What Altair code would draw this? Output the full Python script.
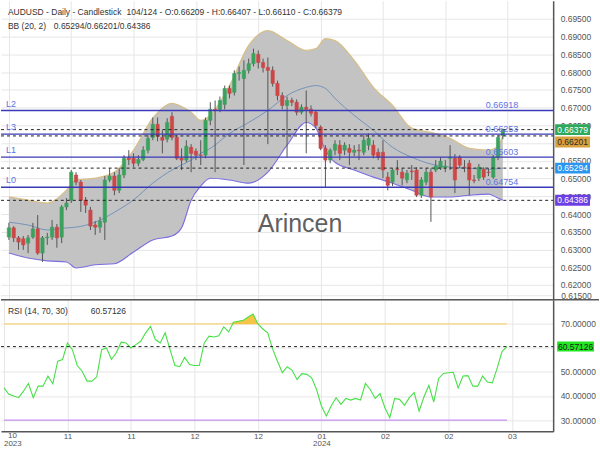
import altair as alt
import pandas as pd

# ---------------- data ----------------
opens = [0.6335, 0.6361, 0.6333, 0.6330, 0.6318, 0.6335, 0.6358, 0.6290, 0.6333, 0.6335,
         0.6363, 0.6335, 0.6420, 0.6439, 0.6510, 0.6490, 0.6439, 0.6411, 0.6369, 0.6363,
         0.6377, 0.6496, 0.6507, 0.6467, 0.6510, 0.6557, 0.6557, 0.6543, 0.6554, 0.6580,
         0.6616, 0.6653, 0.6616, 0.6611, 0.6675, 0.6616, 0.6557, 0.6552, 0.6588, 0.6577,
         0.6566, 0.6566, 0.6664, 0.6695, 0.6695, 0.6709, 0.6754, 0.6743, 0.6796, 0.6782,
         0.6805, 0.6824, 0.6850, 0.6827, 0.6813, 0.6805, 0.6768, 0.6734, 0.6706, 0.6720,
         0.6715, 0.6687, 0.6701, 0.6695, 0.6687, 0.6645, 0.6585, 0.6552, 0.6580, 0.6594,
         0.6580, 0.6585, 0.6574, 0.6580, 0.6574, 0.6594, 0.6594, 0.6574, 0.6574, 0.6504,
         0.6490, 0.6526, 0.6518, 0.6496, 0.6521, 0.6524, 0.6453, 0.6490, 0.6518, 0.6524,
         0.6529, 0.6532, 0.6557, 0.6557, 0.6560, 0.6532, 0.6543, 0.6496, 0.6501, 0.6526,
         0.6518, 0.6504, 0.6560, 0.66209]
closes = [0.6361, 0.6333, 0.6321, 0.6313, 0.6333, 0.6358, 0.6290, 0.6333, 0.6335, 0.6363,
          0.6333, 0.6420, 0.6431, 0.6518, 0.6490, 0.6439, 0.6425, 0.6366, 0.6363, 0.6380,
          0.6496, 0.6507, 0.6467, 0.6510, 0.6557, 0.6554, 0.6543, 0.6554, 0.6580, 0.6613,
          0.6653, 0.6619, 0.6608, 0.6658, 0.6616, 0.6557, 0.6552, 0.6591, 0.6571, 0.6566,
          0.6565, 0.6664, 0.6695, 0.6693, 0.6720, 0.6754, 0.6740, 0.6796, 0.6799, 0.6805,
          0.6824, 0.6852, 0.6827, 0.6813, 0.6805, 0.6768, 0.6734, 0.6706, 0.6720, 0.6715,
          0.6687, 0.6701, 0.6695, 0.6684, 0.6650, 0.6585, 0.6552, 0.6580, 0.6597, 0.6571,
          0.6594, 0.6574, 0.6580, 0.6578, 0.6608, 0.6613, 0.6566, 0.6560, 0.6524, 0.6481,
          0.6524, 0.6525, 0.6501, 0.6515, 0.6519, 0.6453, 0.6496, 0.6518, 0.6448, 0.6535,
          0.6549, 0.6535, 0.6560, 0.6496, 0.6538, 0.6531, 0.6496, 0.6494, 0.6532, 0.6504,
          0.6517, 0.6560, 0.6616, 0.66379]
highs = [0.6375, 0.6366, 0.6338, 0.6338, 0.6341, 0.6375, 0.6397, 0.6338, 0.6347, 0.6383,
         0.6372, 0.6425, 0.6445, 0.6524, 0.6518, 0.6496, 0.6448, 0.6420, 0.6380, 0.6392,
         0.6507, 0.6529, 0.6518, 0.6529, 0.6566, 0.6580, 0.6571, 0.6566, 0.6591, 0.6622,
         0.6672, 0.6672, 0.6636, 0.6670, 0.6687, 0.6622, 0.6585, 0.6608, 0.6597, 0.6585,
         0.6608, 0.6672, 0.6715, 0.6720, 0.6731, 0.6762, 0.6762, 0.6805, 0.6816, 0.6833,
         0.6838, 0.6866, 0.6861, 0.6838, 0.6841, 0.6816, 0.6776, 0.6743, 0.6731, 0.6728,
         0.6723, 0.6709, 0.6748, 0.6706, 0.6692, 0.6650, 0.6594, 0.6585, 0.6608, 0.6608,
         0.6602, 0.6597, 0.6594, 0.6597, 0.6622, 0.6627, 0.6608, 0.6585, 0.6608, 0.6518,
         0.6529, 0.6552, 0.6529, 0.6524, 0.6538, 0.6532, 0.6504, 0.6529, 0.6529, 0.6552,
         0.6560, 0.6552, 0.6594, 0.6569, 0.6566, 0.6552, 0.6552, 0.6510, 0.6541, 0.6532,
         0.6529, 0.6566, 0.6622, 0.66407]
lows = [0.6327, 0.6321, 0.6299, 0.6299, 0.6290, 0.6330, 0.6285, 0.6265, 0.6313, 0.6327,
        0.6305, 0.6318, 0.6411, 0.6431, 0.6481, 0.6406, 0.6403, 0.6355, 0.6341, 0.6347,
        0.6327, 0.6490, 0.6453, 0.6459, 0.6501, 0.6538, 0.6532, 0.6535, 0.6549, 0.6571,
        0.6608, 0.6605, 0.6571, 0.6602, 0.6608, 0.6552, 0.6524, 0.6546, 0.6518, 0.6552,
        0.6538, 0.6557, 0.6650, 0.6518, 0.6687, 0.6695, 0.6726, 0.6734, 0.6776, 0.6538,
        0.6796, 0.6816, 0.6810, 0.6799, 0.6597, 0.6759, 0.6720, 0.6695, 0.6560, 0.6704,
        0.6678, 0.6681, 0.6571, 0.6675, 0.6642, 0.6580, 0.6476, 0.6543, 0.6566, 0.6552,
        0.6566, 0.6538, 0.6563, 0.6552, 0.6566, 0.6580, 0.6557, 0.6552, 0.6501, 0.6467,
        0.6479, 0.6510, 0.6481, 0.6487, 0.6496, 0.6448, 0.6445, 0.6481, 0.6378, 0.6518,
        0.6524, 0.6518, 0.6524, 0.6459, 0.6529, 0.6518, 0.6453, 0.6487, 0.6493, 0.6496,
        0.6507, 0.6499, 0.6552, 0.66110]

rsi = [43.4, 40.7, 40.0, 39.3, 42.0, 45.2, 39.3, 44.1, 44.1, 48.3,
       45.1, 54.5, 55.2, 62.1, 59.3, 52.7, 50.3, 46.2, 46.2, 48.0,
       59.3, 60.0, 55.2, 58.0, 62.4, 62.1, 60.0, 61.4, 62.8, 66.3,
       69.0, 63.5, 62.1, 66.3, 59.3, 52.7, 52.2, 56.1, 53.1, 52.7,
       52.7, 62.1, 64.9, 64.6, 65.1, 68.8, 66.7, 70.7, 71.1, 71.5,
       72.9, 74.1, 70.0, 67.9, 66.3, 59.6, 54.5, 49.7, 52.2, 50.7,
       46.9, 49.3, 49.0, 47.6, 42.7, 35.8, 31.7, 35.8, 39.3, 36.5,
       39.0, 38.3, 39.0, 38.3, 45.2, 42.7, 39.0, 41.0, 35.1, 31.0,
       39.0, 38.6, 36.1, 39.3, 41.4, 33.7, 39.7, 44.4, 37.5, 47.3,
       49.4, 49.7, 49.9, 43.4, 48.3, 48.5, 44.1, 44.1, 48.3, 45.8,
       45.5, 51.7, 58.6, 60.57126]

bb_idx = [0, 4, 8, 12, 14, 18, 22, 26, 30, 34, 36, 38, 40, 42, 46, 50,
          54, 58, 62, 64, 66, 68, 72, 76, 80, 84, 88, 92, 96, 100, 102, 103]
bb_upper = [0.6448, 0.6439, 0.6431, 0.6467, 0.6496, 0.6501, 0.6518, 0.6580, 0.6670, 0.6712,
            0.6703, 0.6687, 0.6664, 0.6678, 0.6762, 0.6875, 0.6917, 0.6889, 0.6861, 0.6866,
            0.6894, 0.6889, 0.6833, 0.6757, 0.6706, 0.6642, 0.6630, 0.6613, 0.6585, 0.6580,
            0.6591, 0.66201]
bb_mid = [0.6377, 0.6369, 0.6355, 0.6361, 0.6363, 0.6377, 0.6405, 0.6440, 0.6487, 0.6524,
          0.6538, 0.6552, 0.6571, 0.6585, 0.6627, 0.6658, 0.6692, 0.6734, 0.6757, 0.6762,
          0.6754, 0.6726, 0.6678, 0.6636, 0.6588, 0.6560, 0.6541, 0.6532, 0.6529, 0.6526,
          0.6528, 0.65294]
bb_lower = [0.6290, 0.6276, 0.6268, 0.6265, 0.6248, 0.6257, 0.6260, 0.6293, 0.6327, 0.6338,
            0.6361, 0.6439, 0.6479, 0.6501, 0.6496, 0.6487, 0.6518, 0.6594, 0.6658, 0.6642,
            0.6580, 0.6546, 0.6524, 0.6504, 0.6487, 0.6467, 0.6448, 0.6448, 0.6453, 0.6456,
            0.6445, 0.64386]

level_names = ["L2", "L3", "L1", "L0"]
level_values = [0.66918, 0.66253, 0.65603, 0.64754]

marker_names = ["close", "bb_upper", "bb_mid", "bb_lower"]
marker_values = [0.66379, 0.66201, 0.65294, 0.64386]

month_ticks = [0, 13, 26, 39, 52, 65, 78, 91, 104]
month_labels = ["10", "11", "11", "12", "12", "01", "02", "02", "03"]
year_labels = ["2023", "2024"]
price_ticks = [0.620, 0.625, 0.630, 0.635, 0.640, 0.645, 0.650, 0.655,
               0.660, 0.665, 0.670, 0.675, 0.680, 0.685, 0.690, 0.695]
hidden_price_labels = [0.660]          # fully covered by the value boxes
rsi_ticks = [30, 40, 50, 60, 70, 80]
hidden_rsi_labels = [60, 80]           # covered by the value box / pane border
rsi_levels = [70, 30]

# ---------------- styling ----------------
FONT = "Liberation Sans"
GREEN = "#3ba15e"
RED = "#cc4747"
GRID = "#e6e6e6"
AX = "#555555"
LVL = "#3a3ab8"
LVL_TXT = "#5d73e3"
BOX_FILL = ["#2ea85a", "#d9a03e", "#2b96ef", "#6b3ee6"]
BOX_TEXT = ["#ffffff", "#2a2a2a", "#ffffff", "#ffffff"]
BOX_SHIFT = [0, 6, 0, 0]
RSI_LEVEL_COLORS = ["#f5d67c", "#c68ff2"]
W, PH, RH = 554, 300, 132

n = len(closes)
idx = list(range(n))
candles = pd.DataFrame({"i": idx, "open": opens, "high": highs, "low": lows, "close": closes})
bb = pd.DataFrame({"i": bb_idx, "up": bb_upper, "mid": bb_mid, "lo": bb_lower})
lv = pd.DataFrame({"name": level_names, "value": level_values})

xs = alt.Scale(domain=[-0.61, 112.45], nice=False, zero=False)
ps = alt.Scale(domain=[0.61584, 0.70011], nice=False, zero=False)
rs = alt.Scale(domain=[25.3, 80.08], nice=False, zero=False)

lab_js = "[" + ",".join(f"'{m}'" for m in month_labels) + "]"
tick_js = "[" + ",".join(str(t) for t in month_ticks) + "]"
xexpr = f"datum.value == {month_ticks[0]} ? '' : {lab_js}[indexof({tick_js}, datum.value)]"


def hide_expr(hidden, fmt):
    cond = " || ".join(f"abs(datum.value - {h}) < 1e-6" for h in hidden)
    return f"({cond}) ? '' : format(datum.value, '{fmt}')"


price_x_axis = alt.Axis(values=month_ticks, grid=True, gridColor=GRID, labels=False,
                        ticks=False, tickSize=0, domain=False, title=None)
price_y_axis = alt.Axis(orient="right", values=price_ticks,
                        labelExpr=hide_expr(hidden_price_labels, ".5f"), grid=True,
                        gridColor=GRID, ticks=False, tickSize=0, domainColor=AX,
                        domainWidth=1.5, labelColor=AX, labelFontSize=8.5, labelFont=FONT,
                        labelPadding=7, title=None)
rsi_x_axis = alt.Axis(values=month_ticks, labelExpr=xexpr, grid=True, gridColor=GRID,
                      ticks=False, tickSize=0, domainColor=AX, domainWidth=1.5,
                      labelColor=AX, labelFontSize=8, labelFont=FONT, labelPadding=1,
                      labelOverlap=False, labelAngle=0, title=None)
rsi_y_axis = alt.Axis(orient="right", values=rsi_ticks,
                      labelExpr=hide_expr(hidden_rsi_labels, ".5f"),
                      grid=True, gridColor=GRID, ticks=False, tickSize=0, domainColor=AX,
                      domainWidth=1.5, labelColor=AX, labelFontSize=8.5, labelFont=FONT,
                      labelPadding=7, title=None)


def PX(field="i"):
    return alt.X(f"{field}:Q", scale=xs, axis=price_x_axis)


def RX(field="i"):
    return alt.X(f"{field}:Q", scale=xs, axis=rsi_x_axis)


def PY(field):
    return alt.Y(f"{field}:Q", scale=ps, axis=price_y_axis)


def RY(field):
    return alt.Y(f"{field}:Q", scale=rs, axis=rsi_y_axis)


def txt(s, x, y, size=8.5, color="#333333", align="left", baseline="middle"):
    return alt.Chart(pd.DataFrame({"t": [s]})).mark_text(
        align=align, baseline=baseline, fontSize=size, color=color, font=FONT
    ).encode(text="t:N", x=alt.value(x), y=alt.value(y))


# ---------------- price pane ----------------
price_grid = alt.Chart(candles).mark_point(opacity=0).encode(x=PX(), y=PY("close"))
bottom_grid = alt.Chart(pd.DataFrame({"a": [0]})).mark_rule(color=GRID).encode(
    x=alt.value(0), x2=alt.value(W), y=alt.value(296))

bb_area = alt.Chart(bb).mark_area(color="#c3c3c3", interpolate="monotone").encode(
    x=PX(), y=PY("up"), y2="lo:Q")
bb_up = alt.Chart(bb).mark_line(color="#d8bf8a", strokeWidth=1.3, interpolate="monotone").encode(
    x=PX(), y=PY("up"))
bb_lo = alt.Chart(bb).mark_line(color="#7a6ee0", strokeWidth=1.1, interpolate="monotone").encode(
    x=PX(), y=PY("lo"))
bb_md = alt.Chart(bb).mark_line(color="#6a8db8", strokeWidth=0.9, interpolate="monotone").encode(
    x=PX(), y=PY("mid"))

wicks = alt.Chart(candles).mark_rule(color="#555555", strokeWidth=1).encode(
    x=PX(), y=PY("low"), y2="high:Q")
col = alt.condition("datum.close >= datum.open", alt.value(GREEN), alt.value(RED))
bodies = alt.Chart(candles).mark_bar(size=3.3, strokeWidth=0.6).encode(
    x=PX(), y=PY("open"), y2="close:Q", color=col, stroke=col)

lv_rules = alt.Chart(lv).mark_rule(color=LVL, strokeWidth=1.3).encode(
    y=PY("value"), x=alt.value(0), x2=alt.value(W))
lv_left = alt.Chart(lv).mark_text(align="left", baseline="middle", dy=-7, fontSize=9,
                                  color=LVL_TXT, font=FONT).encode(
    y=PY("value"), x=alt.value(5), text="name:N")
lv_right = alt.Chart(lv).mark_text(align="right", baseline="middle", dy=-5, fontSize=9,
                                   color=LVL_TXT, font=FONT).encode(
    y=PY("value"), x=alt.value(519), text=alt.Text("value:Q", format=".5f"))

marker_layers = []
for k, (name, val) in enumerate(zip(marker_names, marker_values)):
    d = pd.DataFrame({"name": [name], "value": [val]})
    marker_layers.append(
        alt.Chart(d).mark_rule(color="#222222", strokeWidth=1, strokeDash=[3, 3]).encode(
            y=PY("value"), x=alt.value(0), x2=alt.value(W)))
box_layers = []
for k, (name, val) in enumerate(zip(marker_names, marker_values)):
    d = pd.DataFrame({"name": [name], "value": [val]})
    s = BOX_SHIFT[k]
    box_layers.append(
        alt.Chart(d).mark_rect(color=BOX_FILL[k], yOffset=s - 5.5, y2Offset=s + 5.5).encode(
            y=PY("value"), y2="value:Q", x=alt.value(556), x2=alt.value(591)))
    box_layers.append(
        alt.Chart(d).mark_text(align="center", baseline="middle", fontSize=8.5, font=FONT,
                               dy=s, color=BOX_TEXT[k]).encode(
            y=PY("value"), x=alt.value(573.5), text=alt.Text("value:Q", format=".5f")))

title1 = txt("AUDUSD - Daily - Candlestick", 7, 11)
title2 = txt(f"{n}/124 - O:{opens[-1]:.5f} - H:{highs[-1]:.5f} - L:{lows[-1]:.5f} - C:{closes[-1]:.5f}", 126, 11)
bb1 = txt("BB (20, 2)", 7, 25.6)
bb2 = txt(f"{bb_mid[-1]:.5f}/{bb_upper[-1]:.5f}/{bb_lower[-1]:.5f}", 53, 25.6)
watermark = txt("Arincen", 300, 232, size=25, color="#606060", align="center", baseline="alphabetic")
low_label = txt("0.61500", 562, 296, color=AX)

price = alt.layer(
    price_grid, bottom_grid, bb_area, bb_up, bb_lo, bb_md, wicks, bodies,
    lv_rules, *marker_layers, lv_left, lv_right, *box_layers,
    title1, title2, bb1, bb2, watermark, low_label,
).properties(width=W, height=PH)

# ---------------- RSI pane ----------------
rdf = pd.DataFrame({"i": idx, "rsi": rsi})
r_grid = alt.Chart(rdf).mark_point(opacity=0).encode(x=RX(), y=RY("rsi"))

r_levels = []
for k, v in enumerate(rsi_levels):
    d = pd.DataFrame({"v": [v], "a": [idx[0]], "b": [idx[-1]]})
    r_levels.append(alt.Chart(d).mark_rule(strokeWidth=1.3, color=RSI_LEVEL_COLORS[k]).encode(
        y=RY("v"), x=RX("a"), x2="b:Q"))

r_fill = alt.Chart(rdf).transform_calculate(
    top=f"max(datum.rsi, {rsi_levels[0]})", base=f"{rsi_levels[0]}"
).mark_area(color="#f4c446").encode(x=RX(), y=RY("top"), y2="base:Q")
r_line = alt.Chart(rdf).mark_line(color="#47e047", strokeWidth=1.1).encode(x=RX(), y=RY("rsi"))
cur = pd.DataFrame({"v": [rsi[-1]]})
r_cur = alt.Chart(cur).mark_rule(color="#222222", strokeWidth=1, strokeDash=[3, 3]).encode(
    y=RY("v"), x=alt.value(0), x2=alt.value(W))
r_box = alt.Chart(cur).mark_rect(color="#22e622", yOffset=-5, y2Offset=5).encode(
    y=RY("v"), y2="v:Q", x=alt.value(558), x2=alt.value(595))
r_box_t = alt.Chart(cur).mark_text(align="center", baseline="middle", fontSize=8.5, font=FONT,
                                   color="#1a1a1a").encode(
    y=RY("v"), x=alt.value(576.5), text=alt.Text("v:Q", format=".5f"))
sep = alt.Chart(pd.DataFrame({"a": [0]})).mark_rule(color="#5a5a5a", strokeWidth=1.5).encode(
    x=alt.value(0), x2=alt.value(600), y=alt.value(0))
rsi_t1 = txt("RSI (14, 70, 30)", 7, 11.7)
rsi_t2 = txt(f"{rsi[-1]:.5f}", 90, 11.7)
m0 = txt(month_labels[0], 7, 136.5, size=8, color=AX)
y0 = txt(year_labels[0], 3, 144.8, size=8, color=AX)
y1 = txt(year_labels[1], 322, 144.8, size=8, color=AX, align="center")

rsi_chart = alt.layer(
    r_grid, *r_levels, r_fill, r_line, r_cur, r_box, r_box_t, sep, rsi_t1, rsi_t2, m0, y0, y1
).properties(width=W, height=RH)

chart = alt.vconcat(price, rsi_chart, spacing=0, bounds="flush", padding=0).configure(
    font=FONT).configure_view(strokeWidth=0)

chart.save("out.html", embed_options={"renderer": "svg", "actions": False})
